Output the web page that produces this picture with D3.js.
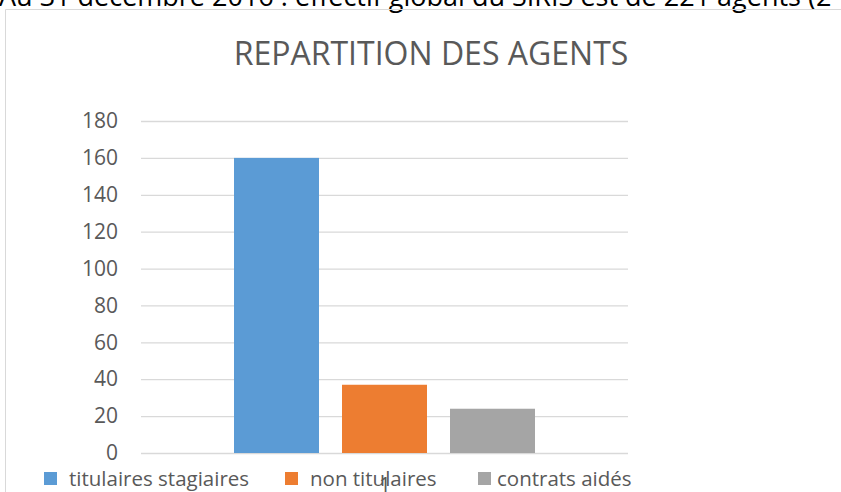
<!DOCTYPE html>
<html>
<head>
    <meta charset="utf-8">
    <style>
        body { margin: 0; background: #fff; overflow: hidden; }
        svg { display: block; font-family: 'Open Sans', Arial, sans-serif; }
    </style>
</head>
<body>
    <svg width="841" height="492"></svg>

<script src="https://d3js.org/d3.v7.min.js"></script>
<script>
    // data
    let categories = ["titulaires stagiaires", "non titulaires", "contrats aidés"];
    let values = [160, 37, 24];
    let colors = ["#5b9bd5", "#ed7d31", "#a5a5a5"];
    let yTicks = [0, 20, 40, 60, 80, 100, 120, 140, 160, 180];

    let svg = d3.select("svg")
    let margin = { top: 121, right: 213, bottom: 39, left: 141 }
    let width = 841, height = 492

    // page text cut off at the top
    svg.append("text")
        .attr("x", -1)
        .attr("y", 6)
        .attr("font-size", 27)
        .attr("fill", "#000")
        .text("Au 31 décembre 2016 : effectif global du SIRIS est de 221 agents (2")

    // chart frame (only top and left visible)
    svg.append("path")
        .attr("d", "M5.5,492 V9.5 H841")
        .attr("fill", "none")
        .attr("stroke", "#d9d9d9")
        .attr("stroke-width", 1)

    svg.append("text")
        .attr("x", 431)
        .attr("y", 65)
        .attr("text-anchor", "middle")
        .attr("font-size", 32)
        .attr("fill", "#595959")
        .text("REPARTITION DES AGENTS")

    let y = d3.scaleLinear()
        .domain([0, 180])
        .range([height - margin.bottom, margin.top])

    // one category group holding three series
    let x = d3.scaleBand()
        .domain(["1"])
        .range([margin.left, width - margin.right])
        .paddingOuter(0)

    let xs = d3.scaleBand()
        .domain(categories)
        .range([x("1") + 93, x("1") + x.bandwidth() - 93])
        .paddingInner(0.213)

    let yAxis = d3.axisLeft(y)
        .tickValues(yTicks)
        .tickSize(-(width - margin.left - margin.right))
        .tickPadding(23)

    svg.append("g")
        .attr("transform", `translate(${margin.left},0)`)
        .call(yAxis)
        .call(g => g.select(".domain").remove())
        .call(g => g.selectAll("line").attr("stroke", "#d9d9d9").attr("stroke-width", 1.3))
        .call(g => g.selectAll("text").attr("font-size", 21).attr("fill", "#595959")
            .attr("font-family", "'Open Sans', Arial, sans-serif"))

    svg.append("g")
        .selectAll("rect")
        .data(values)
        .join("rect")
        .attr("x", (d, i) => xs(categories[i]))
        .attr("width", xs.bandwidth())
        .attr("y", d => y(d))
        .attr("height", d => y(0) - y(d))
        .attr("fill", (d, i) => colors[i])

    // legend
    let legendX = [44, 285, 478]
    let legend = svg.append("g")
        .selectAll("g")
        .data(categories)
        .join("g")
        .attr("transform", (d, i) => `translate(${legendX[i]},472)`)

    legend.append("rect")
        .attr("width", 13)
        .attr("height", 13)
        .attr("fill", (d, i) => colors[i])

    legend.append("text")
        .attr("x", (d, i) => i == 2 ? 19 : 25)
        .attr("y", 14)
        .attr("font-size", 20.5)
        .attr("fill", "#595959")
        .text(d => d)

    // page number overlapping the legend
    svg.append("text")
        .attr("x", 385)
        .attr("y", 493)
        .attr("text-anchor", "middle")
        .attr("font-size", 21)
        .attr("fill", "#595959")
        .text("1")
</script>
</body>
</html>
